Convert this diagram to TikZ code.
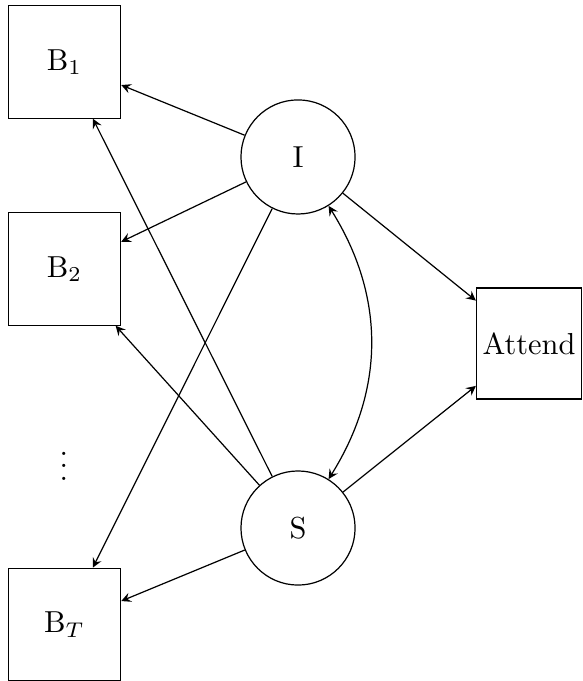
\documentclass[tikz,border=0pt]{standalone}
\usepackage{amsmath}
\usepackage{amssymb}
\usepackage{tikz}
\usetikzlibrary{positioning}

\begin{document}
\begin{tikzpicture}[>=stealth,
    block/.style={draw, rectangle, minimum size=1.3cm, inner sep=0pt},
    latent/.style={draw, circle, minimum size=1.32cm, inner sep=0pt}]
    \useasboundingbox (0,0) rectangle (6.745,-7.879);
    \node [block] (b1) at (0.746,-0.717) {$\mathrm{B}_1$};
    \node [block] (b2) at (0.746,-3.112) {$\mathrm{B}_2$};
    \node (dots) at (0.740,-5.290) {$\vdots$};
    \node [block] (bt) at (0.746,-7.225) {$\mathrm{B}_T$};
    \node [latent] (i) at (3.448,-1.816) {I};
    \node [latent] (s) at (3.448,-6.109) {S};
    \node [draw, rectangle, minimum height=1.284cm, inner xsep=2pt] (att) at (6.120,-3.974) {Attend};
    \draw [->] (i) -- (b1);
    \draw [->] (i) -- (b2);
    \draw [->] (i) -- (bt);
    \draw [->] (i) -- (att);
    \draw [->] (s) -- (b1);
    \draw [->] (s) -- (b2);
    \draw [->] (s) -- (bt);
    \draw [->] (s) -- (att);
    \draw [<->] (i) to [bend left=32] (s);
\end{tikzpicture}
\end{document}
